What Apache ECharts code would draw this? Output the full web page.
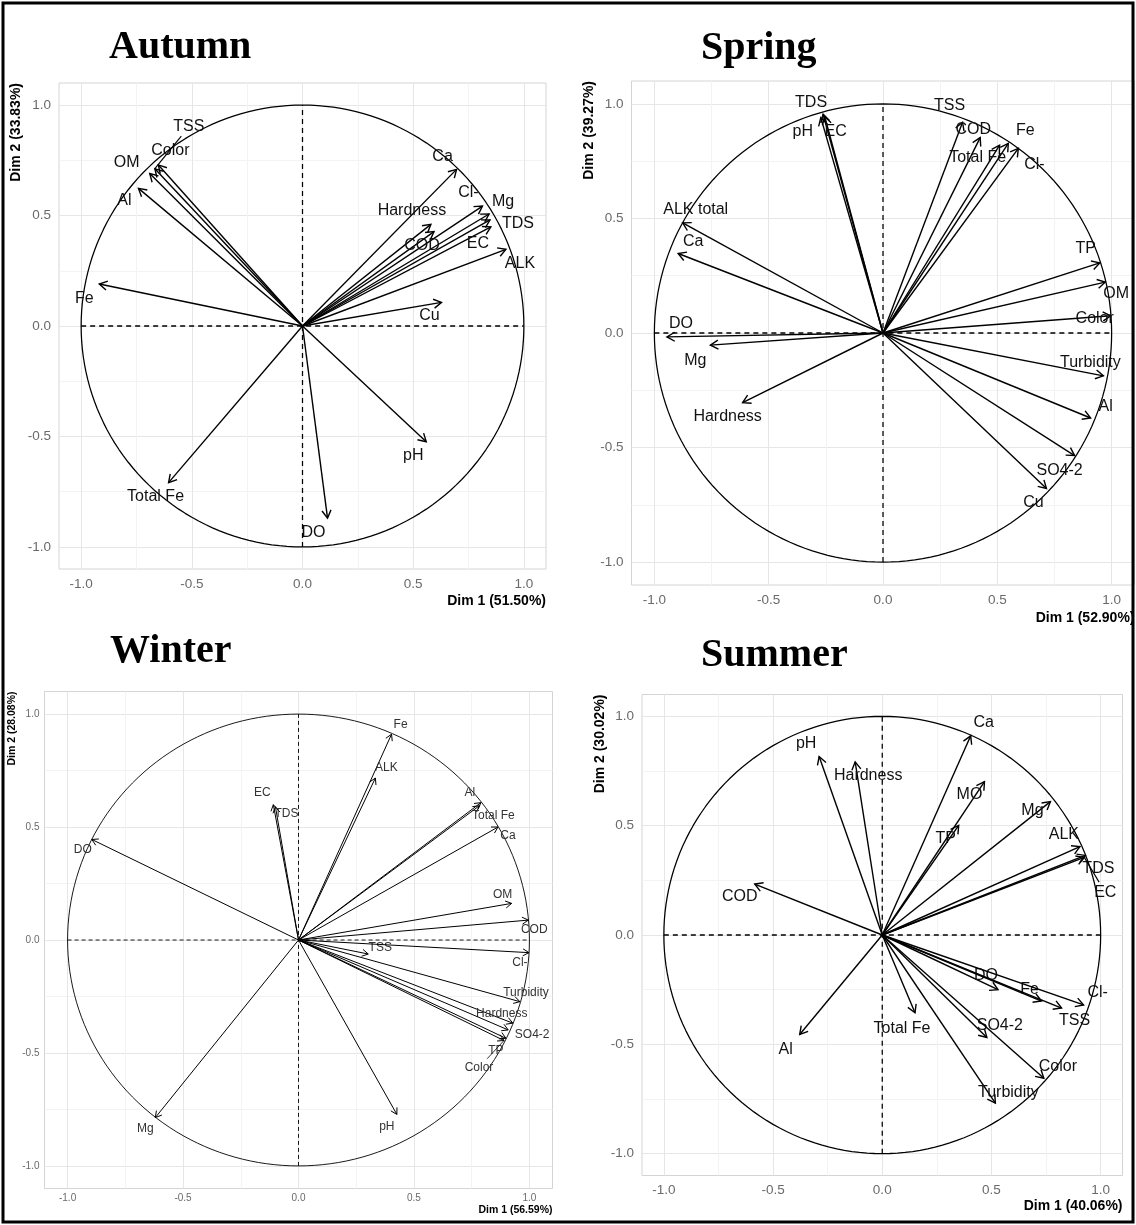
<!DOCTYPE html>
<html>
<head>
<meta charset="utf-8">
<script src="https://cdn.jsdelivr.net/npm/echarts@6.0.0/dist/echarts.min.js"></script>
<style>
  html, body { margin: 0; padding: 0; background: #fff; }
  #chart { width: 1136px; height: 1225px; }
</style>
</head>
<body>
<div id="chart"></div>
<script>
// tick labels shown on both axes of every panel
const tickValues = [-1, -0.5, 0, 0.5, 1];

// Autumn loadings
const autumnVars = ['Ca', 'Cl-', 'Mg', 'TDS', 'EC', 'ALK', 'Hardness', 'COD', 'Cu', 'pH', 'DO', 'Total Fe', 'Fe', 'Al', 'OM', 'Color', 'TSS'];
const autumnDim1 = [0.696, 0.813, 0.843, 0.847, 0.851, 0.919, 0.580, 0.594, 0.628, 0.559, 0.113, -0.605, -0.918, -0.741, -0.690, -0.651, -0.667];
const autumnDim2 = [0.709, 0.543, 0.507, 0.480, 0.449, 0.347, 0.460, 0.427, 0.107, -0.524, -0.870, -0.709, 0.190, 0.623, 0.690, 0.729, 0.712];
const autumnExplained = [51.50, 33.83];

// Spring loadings
const springVars = ['TDS', 'pH', 'EC', 'TSS', 'COD', 'Total Fe', 'Fe', 'Cl-', 'ALK total', 'Ca', 'DO', 'Mg', 'Hardness', 'TP', 'OM', 'Color', 'Turbidity', 'Al', 'SO4-2', 'Cu'];
const springDim1 = [-0.262, -0.272, -0.255, 0.348, 0.425, 0.510, 0.548, 0.592, -0.876, -0.896, -0.945, -0.755, -0.614, 0.948, 0.972, 0.996, 0.964, 0.908, 0.838, 0.715];
const springDim2 = [0.955, 0.940, 0.945, 0.920, 0.853, 0.820, 0.828, 0.806, 0.481, 0.347, -0.017, -0.053, -0.304, 0.306, 0.222, 0.075, -0.187, -0.371, -0.535, -0.679];
const springExplained = [52.90, 39.27];

// Winter loadings
const winterVars = ['Fe', 'ALK', 'EC', 'TDS', 'DO', 'Mg', 'pH', 'Al', 'Total Fe', 'Ca', 'OM', 'COD', 'TSS', 'Cl-', 'Turbidity', 'Hardness', 'SO4-2', 'TP', 'Color'];
const winterDim1 = [0.403, 0.333, -0.109, -0.100, -0.895, -0.620, 0.426, 0.790, 0.783, 0.864, 0.923, 0.995, 0.302, 0.998, 0.959, 0.928, 0.908, 0.898, 0.890];
const winterDim2 = [0.911, 0.717, 0.599, 0.590, 0.445, -0.786, -0.772, 0.608, 0.594, 0.500, 0.162, 0.088, -0.062, -0.056, -0.273, -0.368, -0.398, -0.435, -0.445];
const winterExplained = [56.59, 28.08];

// Summer loadings
const summerVars = ['Ca', 'pH', 'Hardness', 'MO', 'TP', 'Mg', 'ALK', 'TDS', 'EC', 'COD', 'Al', 'Total Fe', 'DO', 'Fe', 'TSS', 'Cl-', 'SO4-2', 'Color', 'Turbidity'];
const summerDim1 = [0.405, -0.289, -0.124, 0.468, 0.350, 0.770, 0.905, 0.930, 0.925, -0.584, -0.378, 0.150, 0.530, 0.729, 0.821, 0.922, 0.479, 0.740, 0.518];
const summerDim2 = [0.911, 0.816, 0.792, 0.701, 0.501, 0.610, 0.404, 0.364, 0.355, 0.233, -0.455, -0.356, -0.250, -0.302, -0.334, -0.320, -0.469, -0.655, -0.769];
const summerExplained = [40.06, 30.02];

// label placement (pixel nudges from the arrow tip, like ggrepel did)
const autumnNudge = {
  'Ca': [-14, -13], 'Cl-': [-14, -13], 'Mg': [14, -12], 'TDS': [28, 4], 'EC': [-13, 17], 'ALK': [14, 14],
  'Hardness': [-19, -14], 'COD': [-12, 14], 'Cu': [-12, 13], 'pH': [-13, 14], 'DO': [-14, 14],
  'Total Fe': [-13, 14], 'Fe': [-15, 15], 'Al': [-14, 12], 'OM': [-23, -11], 'Color': [12, -14], 'TSS': [34, -42]
};
const springNudge = {
  'TDS': [-12, -12], 'pH': [-18, 14], 'EC': [11, 15], 'TSS': [-13, -17], 'COD': [-7, -8], 'Total Fe': [-22, 12],
  'Fe': [17, -13], 'Cl-': [16, 16], 'ALK total': [13, -13], 'Ca': [15, -12], 'DO': [14, -13], 'Mg': [-15, 15],
  'Hardness': [-15, 14], 'TP': [-14, -14], 'OM': [11, 11], 'Color': [-16, 3], 'Turbidity': [-13, -13],
  'Al': [15, -11], 'SO4-2': [-15, 15], 'Cu': [-13, 14]
};
const winterNudge = {
  'Fe': [9, -10], 'ALK': [11, -10], 'EC': [-11, -12], 'TDS': [11, 7], 'DO': [-9, 10], 'Mg': [-10, 11],
  'pH': [-10, 12], 'Al': [-11, -10], 'Total Fe': [14, 10], 'Ca': [10, 9], 'OM': [-9, -9], 'COD': [6, 10],
  'TSS': [12, -6], 'Cl-': [-9, 10], 'Turbidity': [6, -9], 'Hardness': [-11, -9], 'SO4-2': [24, 5],
  'TP': [-10, 12], 'Color': [-25, 27]
};
const summerNudge = {
  'Ca': [13, -13], 'pH': [-13, -13], 'Hardness': [13, 14], 'MO': [-15, 13], 'TP': [-13, 13], 'Mg': [-18, 9],
  'ALK': [-16, -12], 'TDS': [13, 13], 'EC': [21, 35], 'COD': [-15, 13], 'Al': [-14, 15], 'Total Fe': [-13, 16],
  'DO': [-12, -14], 'Fe': [-12, -11], 'TSS': [13, 13], 'Cl-': [14, -12], 'SO4-2': [13, -12], 'Color': [14, -12],
  'Turbidity': [13, -11]
};

const sans = "'Liberation Sans', Arial, sans-serif";
const serif = "'Liberation Serif', 'Times New Roman', serif";

// gridlines every 0.05 from -1.1: major on multiples of 0.5, minor on 0.25
const none = 'rgba(0,0,0,0)';
const gridColors = [none, none, '#e6e6e6', none, none, none, none, '#f3f3f3', none, none];

function fmtTick(v) {
  const hit = tickValues.some(t => Math.abs(t - v) < 1e-6);
  return hit ? (Math.round(v * 2) / 2).toFixed(1) : '';
}

const panels = [
  { title: 'Autumn', vars: autumnVars, d1: autumnDim1, d2: autumnDim2, pct: autumnExplained, nudge: autumnNudge,
    grid: { left: 59, top: 83, width: 487, height: 486 }, titleAt: [109, 48], yTitleX: 16, xTitleY: 601,
    tickFont: 13.5, tickMargin: 8, axisFont: 14, labelFont: 16, labelColor: '#111', lw: 1.4, head: 9, dash: [5, 4] },
  { title: 'Spring', vars: springVars, d1: springDim1, d2: springDim2, pct: springExplained, nudge: springNudge,
    grid: { left: 631.5, top: 81, width: 503, height: 504 }, titleAt: [701, 49], yTitleX: 589, xTitleY: 618,
    tickFont: 13.5, tickMargin: 8, axisFont: 14, labelFont: 16, labelColor: '#111', lw: 1.4, head: 9, dash: [5, 4] },
  { title: 'Winter', vars: winterVars, d1: winterDim1, d2: winterDim2, pct: winterExplained, nudge: winterNudge,
    grid: { left: 44.5, top: 691.5, width: 508, height: 497 }, titleAt: [110, 652], yTitleX: 12, xTitleY: 1210,
    tickFont: 10, tickMargin: 5, axisFont: 10.5, labelFont: 12, labelColor: '#333', lw: 1, head: 7, dash: [4, 3] },
  { title: 'Summer', vars: summerVars, d1: summerDim1, d2: summerDim2, pct: summerExplained, nudge: summerNudge,
    grid: { left: 642, top: 694.5, width: 480.5, height: 481 }, titleAt: [701, 656], yTitleX: 600, xTitleY: 1206,
    tickFont: 13.5, tickMargin: 8, axisFont: 14, labelFont: 16, labelColor: '#111', lw: 1.4, head: 9, dash: [5, 4] }
];

// unit circle outline
const circle = [];
for (let a = 0; a <= 360; a += 2) {
  const r = a * Math.PI / 180;
  circle.push([Math.cos(r), Math.sin(r)]);
}

const option = {
  animation: false,
  backgroundColor: '#fff',
  grid: [], xAxis: [], yAxis: [], series: [], graphic: []
};

panels.forEach(function (p, i) {
  option.grid.push(Object.assign({
    show: true, borderColor: '#d4d4d4', borderWidth: 1, backgroundColor: '#fff',
    containLabel: false, outerBoundsMode: 'none'
  }, p.grid));

  const axis = {
    type: 'value', gridIndex: i, min: -1.1, max: 1.1, interval: 0.05,
    axisLine: { show: false }, axisTick: { show: false },
    axisLabel: { formatter: fmtTick, color: '#6a6a6a', fontSize: p.tickFont, fontFamily: sans, margin: p.tickMargin },
    splitLine: { show: true, lineStyle: { color: gridColors, width: 1 } }
  };
  option.xAxis.push(Object.assign({}, axis));
  option.yAxis.push(Object.assign({}, axis));

  const ref = { xAxisIndex: i, yAxisIndex: i, type: 'line', showSymbol: false, symbol: 'none', silent: true, z: 3 };
  option.series.push(Object.assign({}, ref, {
    data: circle, lineStyle: { color: '#000', width: p.lw * 0.9 }
  }));
  option.series.push(Object.assign({}, ref, {
    data: [[-1, 0], [1, 0]], lineStyle: { color: '#000', width: p.lw * 0.9, type: p.dash }
  }));
  option.series.push(Object.assign({}, ref, {
    data: [[0, -1], [0, 1]], lineStyle: { color: '#000', width: p.lw * 0.9, type: p.dash }
  }));

  // loading arrows with their labels
  option.series.push({
    type: 'custom', xAxisIndex: i, yAxisIndex: i, z: 5, silent: true,
    data: p.vars.map((v, k) => [p.d1[k], p.d2[k]]),
    renderItem: function (params, api) {
      const name = p.vars[params.dataIndex];
      const o = api.coord([0, 0]);
      const t = api.coord([api.value(0), api.value(1)]);
      const ang = Math.atan2(t[1] - o[1], t[0] - o[0]);
      const wing = Math.PI / 6;
      const w1 = [t[0] - p.head * Math.cos(ang - wing), t[1] - p.head * Math.sin(ang - wing)];
      const w2 = [t[0] - p.head * Math.cos(ang + wing), t[1] - p.head * Math.sin(ang + wing)];
      const n = p.nudge[name] || [0, 0];
      const lx = t[0] + n[0], ly = t[1] + n[1];
      const kids = [
        { type: 'line', shape: { x1: o[0], y1: o[1], x2: t[0], y2: t[1] }, style: { stroke: '#000', lineWidth: p.lw } },
        { type: 'polyline', shape: { points: [w1, t, w2] }, style: { stroke: '#000', fill: 'none', lineWidth: p.lw } },
        { type: 'text', x: lx, y: ly, style: {
          text: name, fill: p.labelColor, fontSize: p.labelFont, fontFamily: sans, align: 'center', verticalAlign: 'middle'
        } }
      ];
      const len = Math.hypot(n[0], n[1]);
      if (len > 30) {
        const k = (len - 12) / len;
        kids.push({ type: 'line', shape: { x1: t[0], y1: t[1], x2: t[0] + n[0] * k, y2: t[1] + n[1] * k },
          style: { stroke: '#000', lineWidth: p.lw * 0.8 } });
      }
      return { type: 'group', children: kids };
    }
  });

  const g = p.grid;
  option.graphic.push({
    type: 'text', left: null, x: p.titleAt[0], y: p.titleAt[1],
    style: { text: p.title, fill: '#000', fontSize: 40, fontWeight: 'bold', fontFamily: serif, align: 'left', verticalAlign: 'middle' }
  });
  option.graphic.push({
    type: 'text', x: g.left + g.width, y: p.xTitleY,
    style: { text: 'Dim 1 (' + p.pct[0].toFixed(2) + '%)', fill: '#000', fontSize: p.axisFont, fontWeight: 'bold',
      fontFamily: sans, align: 'right', verticalAlign: 'middle' }
  });
  option.graphic.push({
    type: 'text', x: p.yTitleX, y: g.top, rotation: Math.PI / 2,
    style: { text: 'Dim 2 (' + p.pct[1].toFixed(2) + '%)', fill: '#000', fontSize: p.axisFont, fontWeight: 'bold',
      fontFamily: sans, align: 'right', verticalAlign: 'middle' }
  });
});

// outer frame round the whole figure
option.graphic.push({
  type: 'rect', shape: { x: 3, y: 3, width: 1130, height: 1219 },
  style: { fill: 'none', stroke: '#000', lineWidth: 3 }, z: 100
});

const chart = echarts.init(document.getElementById('chart'), null, { renderer: 'canvas' });
chart.setOption(option);
</script>
</body>
</html>
